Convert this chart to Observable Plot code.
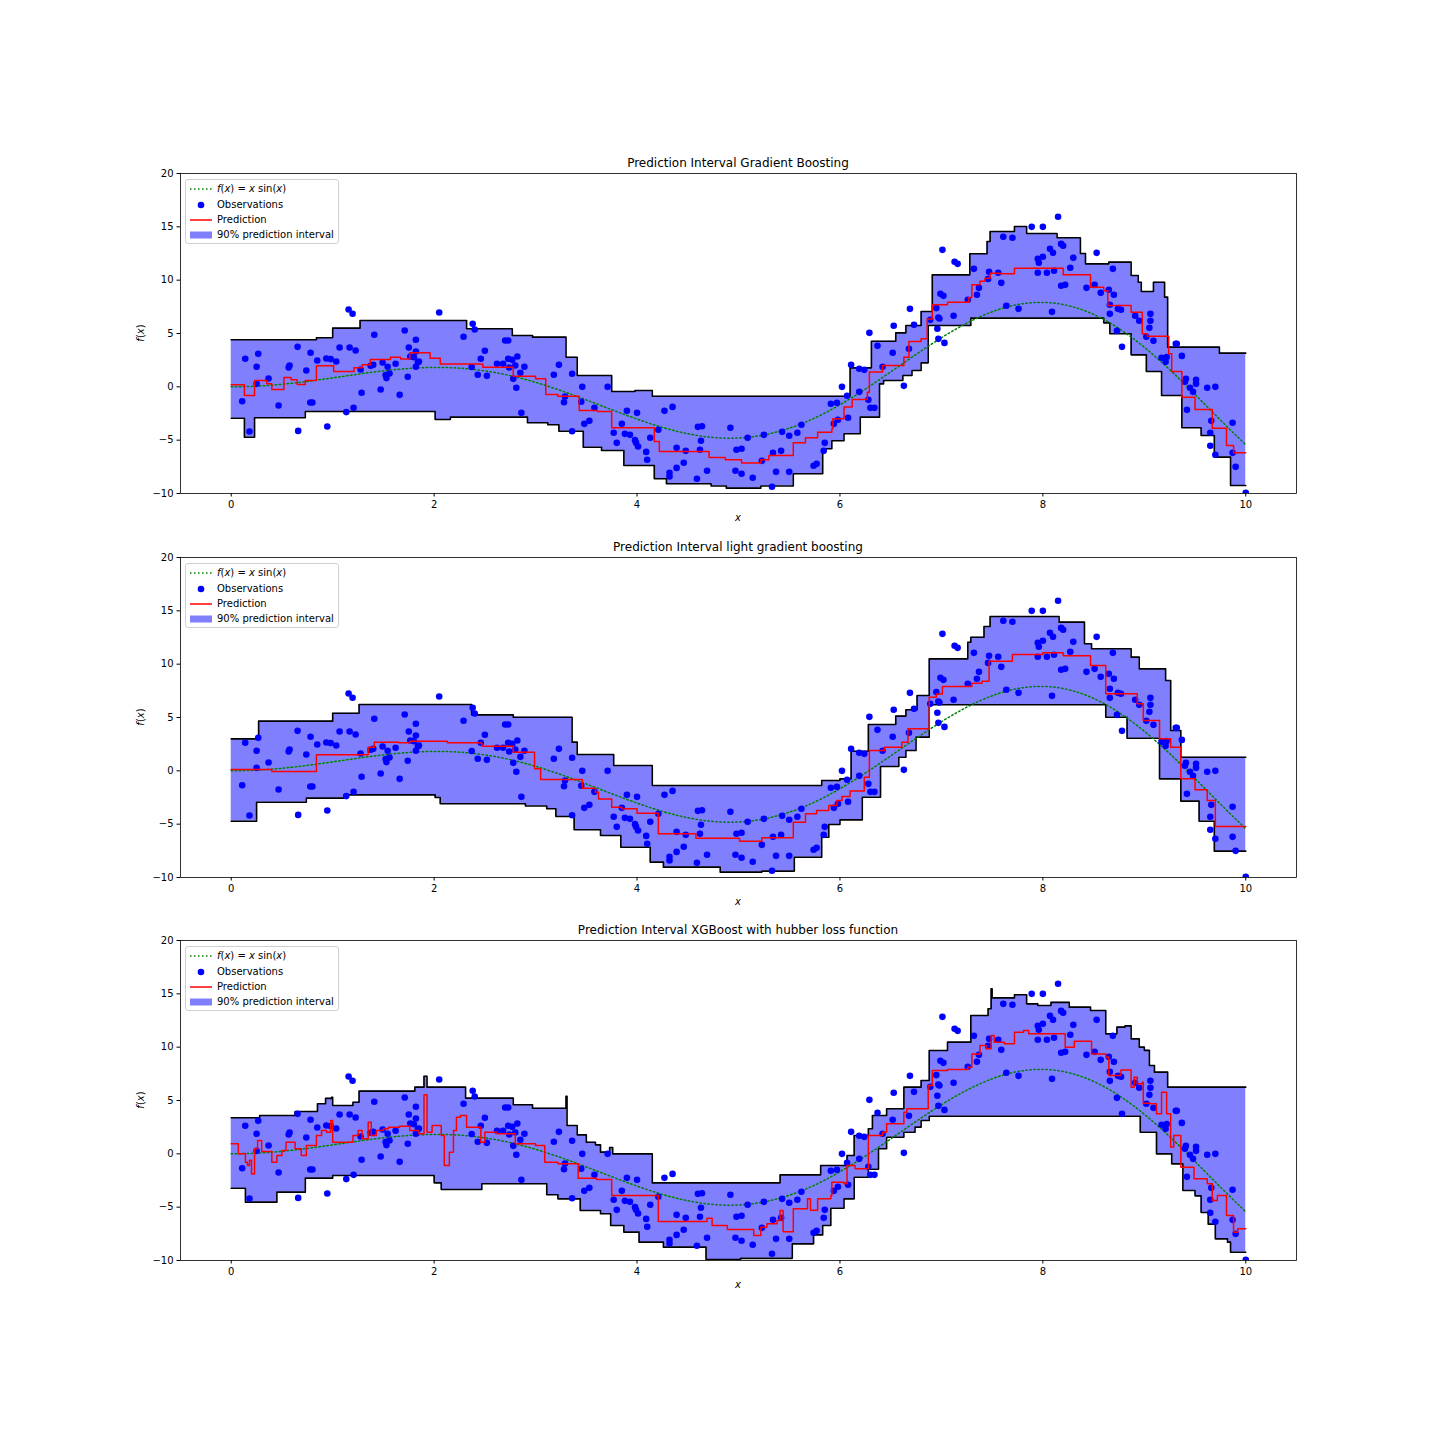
<!DOCTYPE html>
<html><head><meta charset="utf-8">
<script src="https://cdn.jsdelivr.net/npm/d3@7"></script>
<script src="https://cdn.jsdelivr.net/npm/@observablehq/plot@0.6"></script>
<style>
body{margin:0;background:#fff;font-family:"DejaVu Sans",sans-serif;color:#000;}
#root{position:relative;width:1440px;height:1440px;overflow:hidden;}
.title{position:absolute;left:180px;width:1116px;text-align:center;font-size:12px;line-height:14px;}
.xlab{position:absolute;left:180px;width:1116px;text-align:center;font-size:10px;line-height:14px;font-style:italic;}
.ylab{position:absolute;width:60px;text-align:center;font-size:10px;line-height:12px;transform:rotate(-90deg);}
.panel{position:absolute;left:0;}
.legend{position:absolute;left:185px;width:152px;height:63px;border:1px solid #d0d0d0;border-radius:3px;background:rgba(255,255,255,0.8);font-size:10px;}
.row{position:absolute;left:0;height:14px;line-height:14px;width:150px;}
.row svg{position:absolute;left:3px;top:2px;}
.row span{position:absolute;left:31px;top:0;white-space:nowrap;}
</style></head><body><div id="root"></div><script>
// ---- data ----
const fX = [0,0.25,0.5,0.75,1,1.25,1.5,1.75,2,2.25,2.5,2.75,3,3.25,3.5,3.75,4,4.25,4.5,4.75,5,5.25,5.5,5.75,6,6.25,6.5,6.75,7,7.25,7.5,7.75,8,8.25,8.5,8.75,9,9.25,9.5,9.75,10];
const fY = [0,0.062,0.240,0.511,0.841,1.186,1.496,1.722,1.819,1.751,1.496,1.050,0.423,-0.352,-1.228,-2.144,-3.027,-3.804,-4.399,-4.747,-4.795,-4.509,-3.880,-2.932,-1.677,-0.207,1.398,3.037,4.599,5.968,7.035,7.708,7.915,7.613,6.787,5.466,3.709,1.613,-0.715,-3.115,-5.440];

const obsX = [0.108,0.138,0.18,0.25,0.25,0.266,0.368,0.467,0.566,0.575,0.654,0.66,0.74,0.779,0.80,0.782,0.848,0.937,0.947,0.98,1.035,1.068,1.134,1.157,1.167,1.196,1.206,1.226,1.275,1.285,1.374,1.40,1.41,1.473,1.492,1.522,1.53,1.542,1.56,1.62,1.66,1.71,1.74,1.75,1.765,1.80,1.82,1.82,1.82,1.84,1.85,2.05,2.29,2.37,2.38,2.40,2.46,2.43,2.50,2.52,2.62,2.68,2.70,2.73,2.73,2.74,2.77,2.78,2.80,2.81,2.82,2.85,2.86,2.89,3.18,3.23,3.28,3.29,3.36,3.36,3.45,3.46,3.48,3.53,3.58,3.71,3.77,3.80,3.85,3.88,3.90,3.93,3.98,3.99,4.0,4.01,4.09,4.10,4.13,4.21,4.27,4.32,4.32,4.35,4.39,4.39,4.46,4.48,4.59,4.60,4.62,4.63,4.64,4.69,4.92,4.97,4.98,5.03,5.03,5.09,5.14,5.23,5.25,5.33,5.34,5.37,5.42,5.43,5.50,5.50,5.58,5.62,5.74,5.77,5.84,5.85,5.91,5.94,5.97,5.98,6.02,6.07,6.08,6.11,6.19,6.19,6.24,6.28,6.29,6.30,6.34,6.37,6.42,6.52,6.53,6.63,6.68,6.69,6.73,6.89,6.95,6.96,6.97,6.98,6.97,6.99,7.01,7.02,7.03,7.12,7.13,7.16,7.26,7.32,7.35,7.37,7.46,7.47,7.56,7.59,7.61,7.64,7.70,7.76,7.89,7.95,7.96,7.95,8.0,8.0,8.04,8.07,8.09,8.10,8.11,8.15,8.18,8.2,8.18,8.22,8.27,8.30,8.43,8.51,8.53,8.57,8.65,8.66,8.66,8.69,8.70,8.73,8.74,8.77,8.78,8.91,8.95,9.02,9.05,9.06,9.06,9.09,9.17,9.21,9.22,9.31,9.32,9.37,9.40,9.41,9.42,9.45,9.48,9.51,9.51,9.62,9.65,9.65,9.66,9.70,9.70,9.87,9.87,9.90,10.0];
const obsY = [-1.35,2.63,-4.19,1.88,0.28,3.09,0.78,-1.75,1.81,2.0,3.75,-4.13,1.53,-1.47,-1.47,3.19,2.47,2.66,-3.72,2.6,2.38,3.69,-2.37,7.25,3.69,6.85,-1.97,3.41,1.63,-0.56,1.97,2.06,4.88,-0.25,2.28,1.1,0.82,1.88,1.25,2.16,-0.75,5.28,0.94,3.69,2.84,2.78,4.41,3.31,1.88,2.31,2.38,6.97,4.69,1.86,5.91,5.38,2.63,1.13,3.38,1.03,2.16,2.16,4.34,4.34,2.63,1.81,2.53,0.75,2.0,-0.09,2.84,1.31,-2.44,1.88,1.13,2.06,-1.44,-0.9,1.22,-4.16,-1.4,0.0,-3.47,-3.19,-1.97,0.0,-4.31,-5.25,-3.47,-4.41,-2.25,-4.5,-5.0,-5.25,-2.44,-5.6,-6.1,-6.84,-4.78,-4.03,-2.25,-8.06,-8.4,-1.88,-5.72,-7.6,-7.12,-6.0,-8.62,-3.75,-5.9,-5.06,-3.7,-7.87,-3.84,-7.87,-5.9,-5.81,-8.15,-4.78,-8.53,-6.94,-4.5,-9.37,-6.19,-7.97,-6.0,-4.22,-7.97,-4.59,-4.31,-3.56,-7.4,-7.22,-6.0,-5.25,-1.59,-3.47,-1.5,-3.09,0.0,-0.84,-2.9,2.06,1.69,-0.47,1.59,-1.22,5.06,-1.97,-1.97,3.84,1.88,3.19,5.72,0.09,3.56,7.31,5.81,6.28,7.38,5.44,6.5,6.4,4.5,8.72,12.84,8.53,4.12,6.66,11.72,11.53,8.16,11.06,8.63,9.28,10.12,10.78,10.69,9.75,14.06,7.6,13.97,7.31,15.0,12.0,11.63,10.69,15.0,12.19,10.69,12.94,7.03,12.56,10.88,15.94,13.4,13.22,9.47,9.56,11.16,12.09,9.28,9.56,12.56,8.81,9.09,7.69,6.84,11.06,8.63,5.25,7.31,7.22,3.75,6.66,6.19,4.69,5.53,6.84,6.19,4.31,2.72,2.34,2.8,4.03,4.03,2.9,0.47,0.75,-2.16,-0.09,-0.47,0.66,0.28,-0.09,-4.31,-5.53,-3.19,0.0,-6.37,-3.37,-6.19,-7.5,-9.94];

const titles = ["Prediction Interval Gradient Boosting","Prediction Interval light gradient boosting","Prediction Interval XGBoost with hubber loss function"];

// Gradient boosting
const gbUpX = [0,0.84,1.0,1.27,2.32,2.77,2.97,3.30,3.41,3.75,3.98,4.15,6.10,6.31,6.55,6.65,6.80,6.91,7.28,7.45,7.48,7.72,7.84,8.14,8.37,8.42,8.65,8.87,8.94,8.97,9.09,9.20,9.23,9.74,10];
const gbUpY = [4.41,4.6,5.5,6.22,5.44,4.81,4.66,2.78,1.06,-0.44,-0.35,-0.88,1.78,4.28,5.06,5.75,7.06,10.5,12.47,13.63,14.56,15.03,14.38,13.97,12.5,11.53,11.69,10.44,9.81,8.94,9.81,8.41,3.72,3.16,3.16];
const gbLoX = [0,0.13,0.23,0.73,2.01,2.16,2.92,3.12,3.23,3.47,3.65,3.87,4.17,4.29,4.73,4.88,5.22,5.54,5.83,5.92,6.04,6.20,6.39,6.43,6.62,6.71,6.80,6.87,7.29,8.60,8.66,8.87,9.02,9.17,9.37,9.56,9.69,9.85,10];
const gbLoY = [-2.94,-4.72,-2.9,-2.31,-3.06,-2.84,-3.37,-3.56,-4.16,-5.66,-5.97,-7.38,-8.62,-9.09,-9.3,-9.5,-9.3,-8.15,-5.81,-5.06,-4.4,-2.84,0.28,0.6,1.06,1.53,2.25,5.75,6.44,6.0,4.97,3.0,1.44,-0.81,-3.84,-4.56,-6.59,-9.25,-9.25];
const gbPrX = [0,0.13,0.23,0.35,0.40,0.52,0.59,0.65,0.73,0.84,1.01,1.21,1.29,1.37,1.47,1.57,1.67,1.76,1.96,2.06,2.48,2.78,3.0,3.10,3.22,3.43,3.61,3.75,4.17,4.22,4.71,4.87,5.03,5.22,5.30,5.54,5.66,5.78,5.92,5.93,6.04,6.12,6.27,6.29,6.42,6.63,6.68,6.80,6.86,6.91,7.06,7.27,7.30,7.38,7.43,7.48,7.58,7.72,8.20,8.47,8.60,8.64,8.87,8.98,9.03,9.24,9.27,9.37,9.50,9.67,9.81,9.88,10];
const gbPrY = [0.19,-0.81,0.59,0.28,-0.25,0.88,0.66,0.22,0.59,1.97,1.44,1.78,2.06,2.56,2.56,2.78,2.62,3.19,2.69,2.13,1.84,1.0,0.75,-0.72,-0.88,-2.22,-2.31,-3.84,-5.12,-6.06,-6.62,-6.84,-7.15,-6.84,-6.44,-5.25,-4.78,-4.25,-3.94,-3.0,-1.9,-1.19,-0.5,1.38,2.0,2.78,4.25,4.5,6.37,7.69,7.94,8.38,9.56,9.9,10.19,10.66,10.6,11.12,10.5,9.34,9.0,7.63,7.0,4.97,4.75,3.09,1.44,-0.97,-2.12,-3.88,-5.5,-6.19,-6.19];

// LightGBM
const lgUpX = [0,0.27,1.0,1.26,2.37,2.78,3.36,3.41,3.77,4.15,5.82,6.0,6.11,6.28,6.55,6.65,6.76,6.88,7.26,7.29,7.42,7.48,8.16,8.41,8.48,8.87,8.95,9.21,9.26,9.36,10];
const lgUpY = [3.0,4.66,5.4,6.22,5.25,5.03,2.69,1.53,0.5,-1.38,-0.9,-0.75,1.84,4.34,5.13,5.72,7.06,10.5,12.06,12.53,13.53,14.47,13.94,11.91,11.44,10.66,9.56,8.47,3.78,1.28,1.28];
const lgLoX = [0,0.25,0.74,1.11,2.01,2.06,2.90,3.11,3.20,3.38,3.64,3.84,4.13,4.26,4.82,5.23,5.55,5.82,5.89,6.0,6.22,6.40,6.58,6.65,6.75,6.88,8.62,8.83,9.15,9.36,9.54,9.69,10];
const lgLoY = [-4.72,-2.94,-2.56,-2.25,-2.5,-3.09,-3.3,-3.56,-4.28,-5.53,-6.06,-7.16,-8.56,-9.03,-9.5,-9.4,-8.1,-6.22,-5.03,-4.6,-2.47,0.41,1.28,1.9,3.16,6.19,5.03,3.06,-0.75,-2.84,-4.72,-7.53,-7.53];
const lgPrX = [0,0.40,0.84,1.35,1.41,1.65,1.76,2.13,2.47,2.78,2.99,3.05,3.46,3.59,3.62,3.75,3.85,4.0,4.21,4.58,5.01,5.23,5.54,5.66,5.77,5.89,5.97,6.02,6.10,6.24,6.29,6.44,6.61,6.67,6.88,6.95,7.01,7.30,7.40,7.47,7.70,8.0,8.20,8.47,8.62,8.93,8.99,9.15,9.26,9.36,9.50,9.62,9.70,10];
const lgPrY = [0.13,-0.06,1.5,2.22,2.69,2.63,2.78,2.63,2.31,1.75,0.19,-0.81,-1.63,-2.0,-2.63,-3.41,-3.56,-3.97,-5.91,-6.31,-6.59,-6.28,-4.81,-4.03,-3.72,-3.25,-2.78,-2.41,-1.9,-0.59,1.9,2.22,2.69,3.94,6.9,7.2,7.9,8.2,8.4,10.28,10.9,11.06,10.8,9.88,7.22,6.28,4.72,3.0,2.22,-0.75,-1.78,-2.78,-5.22,-5.22];

// XGBoost
const xgUpX = [0,0.28,0.63,0.85,0.93,0.99,1.0,1.2,1.26,1.81,1.90,1.93,2.31,2.78,2.97,3.30,3.31,3.41,3.50,3.59,3.64,3.73,3.76,4.15,5.41,5.81,6.07,6.14,6.28,6.32,6.46,6.63,6.80,6.88,7.06,7.29,7.46,7.49,7.50,7.72,7.84,7.95,8.08,8.26,8.47,8.62,8.73,8.81,8.87,8.95,9.0,9.05,9.10,9.23,10];
const xgUpY = [3.38,3.6,3.97,4.69,5.2,5.3,4.53,4.84,5.88,6.25,7.28,6.25,5.22,4.6,4.28,5.4,2.66,1.78,1.09,0.84,0.16,0.6,0.0,-2.72,-1.97,-1.09,-0.16,1.72,2.35,3.59,4.22,6.25,6.88,9.69,10.47,12.97,13.6,15.47,14.62,14.91,14.06,13.9,14.2,13.75,13.44,11.25,11.88,12.0,10.78,10.0,9.7,8.28,7.66,6.25,6.25];
const xgLoX = [0,0.14,0.45,0.73,1.0,2.0,2.07,2.47,3.11,3.22,3.44,3.64,3.74,3.87,4.02,4.26,4.68,5.02,5.53,5.74,5.83,5.91,6.04,6.14,6.28,6.38,6.46,6.63,6.74,6.80,6.88,8.96,9.12,9.27,9.38,9.5,9.56,9.63,9.70,9.82,9.85,10];
const xgLoY = [-3.22,-4.53,-3.59,-2.28,-2.03,-2.72,-3.34,-2.81,-3.84,-4.22,-5.31,-5.62,-6.72,-7.34,-8.28,-8.75,-9.9,-9.8,-8.44,-7.6,-6.72,-5.1,-4.22,-2.19,-1.44,0.47,1.56,2.03,2.5,3.12,3.53,2.03,0.0,-0.94,-3.44,-3.94,-5.5,-6.59,-7.97,-8.28,-9.22,-9.22];
const xgPrX = [0,0.07,0.14,0.16,0.18,0.20,0.23,0.26,0.30,0.40,0.45,0.50,0.54,0.63,0.69,0.74,0.84,0.89,0.94,0.98,1.0,1.05,1.2,1.25,1.29,1.35,1.38,1.43,1.5,1.55,1.66,1.76,1.85,1.9,1.93,1.98,2.07,2.10,2.15,2.19,2.22,2.26,2.32,2.46,2.5,2.62,2.80,3.0,3.09,3.22,3.42,3.6,3.75,4.21,4.69,4.74,4.89,5.15,5.22,5.28,5.38,5.41,5.44,5.54,5.66,5.68,5.71,5.78,5.91,5.92,6.04,6.07,6.15,6.28,6.42,6.46,6.63,6.66,6.87,6.91,7.06,7.26,7.30,7.38,7.44,7.49,7.52,7.62,7.72,7.81,7.86,8.22,8.31,8.48,8.62,8.65,8.77,8.87,8.90,8.93,8.98,8.99,9.06,9.12,9.17,9.22,9.26,9.29,9.36,9.49,9.62,9.67,9.72,9.81,9.88,9.92,10];
const xgPrY = [0.94,0.0,-0.78,-1.09,-0.6,-1.88,0.47,1.25,0.22,-0.78,-0.16,0.31,1.09,0.47,-0.16,0.78,1.72,2.19,2.03,3.12,1.09,1.09,1.72,2.19,1.41,2.97,1.72,2.19,2.34,2.5,2.59,2.19,1.88,5.53,2.03,2.66,1.72,-1.09,0.16,2.19,3.44,3.6,2.5,1.09,2.03,1.88,0.94,0.78,-0.78,-0.94,-2.28,-2.41,-3.91,-6.34,-6.03,-6.72,-7.09,-7.66,-6.88,-6.56,-6.25,-5.31,-7.3,-5.16,-5.16,-4.22,-5.3,-4.22,-3.91,-2.66,-2.81,-1.09,-1.41,1.72,2.03,2.81,3.91,4.22,6.41,7.81,7.9,8.12,9.37,10.16,9.84,11.09,10.47,10.31,11.4,11.56,11.25,10.0,10.56,9.37,9.06,7.34,7.87,6.25,7.19,6.56,6.72,4.75,4.69,3.75,5.78,3.75,0.63,1.72,-1.25,-2.34,-2.81,-4.38,-3.91,-5.78,-7.34,-7.03,-7.03];

const xTicks = [0,2,4,6,8,10];
const yTicks = [-10,-5,0,5,10,15,20];

// ---- build ----
const zip = (X, Y) => X.map((x, i) => ({x, y: Y[i]}));
function band(ux, uy, lx, ly) {
  const xs = Array.from(new Set([...ux, ...lx])).sort((a, b) => a - b);
  const at = (X, Y, x) => { let v = Y[0]; for (let i = 0; i < X.length; i++) { if (X[i] <= x) v = Y[i]; else break; } return v; };
  return xs.map(x => ({x, hi: at(ux, uy, x), lo: at(lx, ly, x)}));
}
const fData = zip(fX, fY);
const obs = zip(obsX, obsY);
const panels = [
  {top: 173, up: zip(gbUpX, gbUpY), lo: zip(gbLoX, gbLoY), pr: zip(gbPrX, gbPrY), band: band(gbUpX, gbUpY, gbLoX, gbLoY)},
  {top: 557, up: zip(lgUpX, lgUpY), lo: zip(lgLoX, lgLoY), pr: zip(lgPrX, lgPrY), band: band(lgUpX, lgUpY, lgLoX, lgLoY)},
  {top: 940, up: zip(xgUpX, xgUpY), lo: zip(xgLoX, xgLoY), pr: zip(xgPrX, xgPrY), band: band(xgUpX, xgUpY, xgLoX, xgLoY)}
];

const root = document.getElementById("root");
const legendHTML = `
<div class="row" style="top:2px"><svg width="24" height="10"><line x1="1" y1="5" x2="23" y2="5" stroke="#008000" stroke-width="1.5" stroke-dasharray="1.5,2.5"/></svg><span><i>f</i>(<i>x</i>) = <i>x</i> sin(<i>x</i>)</span></div>
<div class="row" style="top:17.5px"><svg width="24" height="10"><circle cx="12" cy="5" r="3.3" fill="#0000ff"/></svg><span>Observations</span></div>
<div class="row" style="top:32.5px"><svg width="24" height="10"><line x1="1" y1="5" x2="23" y2="5" stroke="#ff0000" stroke-width="1.5"/></svg><span>Prediction</span></div>
<div class="row" style="top:47.5px"><svg width="24" height="10"><rect x="1" y="1.5" width="22" height="7" fill="#8080ff"/></svg><span>90% prediction interval</span></div>`;

panels.forEach((p, i) => {
  const chart = Plot.plot({
    width: 1440, height: 370,
    marginLeft: 180, marginRight: 144, marginTop: 10, marginBottom: 40,
    style: {fontFamily: "DejaVu Sans", fontSize: "10px", color: "black", background: "transparent", overflow: "visible"},
    x: {domain: [-0.5, 10.5], ticks: xTicks, tickSize: 3.5, tickPadding: 3.5, label: null},
    y: {domain: [-10, 20], ticks: yTicks, tickSize: 3.5, tickPadding: 3.5, label: null},
    marks: [
      Plot.areaY(p.band, {x: "x", y1: "lo", y2: "hi", curve: "step-after", fill: "#8080ff", clip: true}),
      Plot.line(p.up, {x: "x", y: "y", curve: "step-after", stroke: "black", strokeWidth: 1.6, clip: true}),
      Plot.line(p.lo, {x: "x", y: "y", curve: "step-after", stroke: "black", strokeWidth: 1.6, clip: true}),
      Plot.line(fData, {x: "x", y: "y", curve: "natural", stroke: "#008000", strokeWidth: 1.5, strokeDasharray: "1.5,2.5", clip: true}),
      Plot.dot(obs, {x: "x", y: "y", r: 3.3, fill: "#0000ff", stroke: null, clip: true}),
      Plot.line(p.pr, {x: "x", y: "y", curve: "step-after", stroke: "#ff0000", strokeWidth: 1.5, clip: true}),
      Plot.frame({stroke: "black", strokeWidth: 0.8})
    ]
  });
  const wrap = document.createElement("div");
  wrap.className = "panel";
  wrap.style.top = (p.top - 10) + "px";
  wrap.appendChild(chart);
  root.appendChild(wrap);

  const t = document.createElement("div");
  t.className = "title"; t.style.top = (p.top - 17) + "px"; t.textContent = titles[i];
  root.appendChild(t);

  const xl = document.createElement("div");
  xl.className = "xlab"; xl.style.top = (p.top + 338) + "px"; xl.textContent = "x";
  root.appendChild(xl);

  const yl = document.createElement("div");
  yl.className = "ylab"; yl.style.left = (141 - 30) + "px"; yl.style.top = (p.top + 160 - 6) + "px";
  yl.innerHTML = "<i>f</i>(<i>x</i>)";
  root.appendChild(yl);

  const lg = document.createElement("div");
  lg.className = "legend"; lg.style.top = (p.top + 6) + "px";
  lg.innerHTML = legendHTML;
  root.appendChild(lg);
});
</script></body></html>
